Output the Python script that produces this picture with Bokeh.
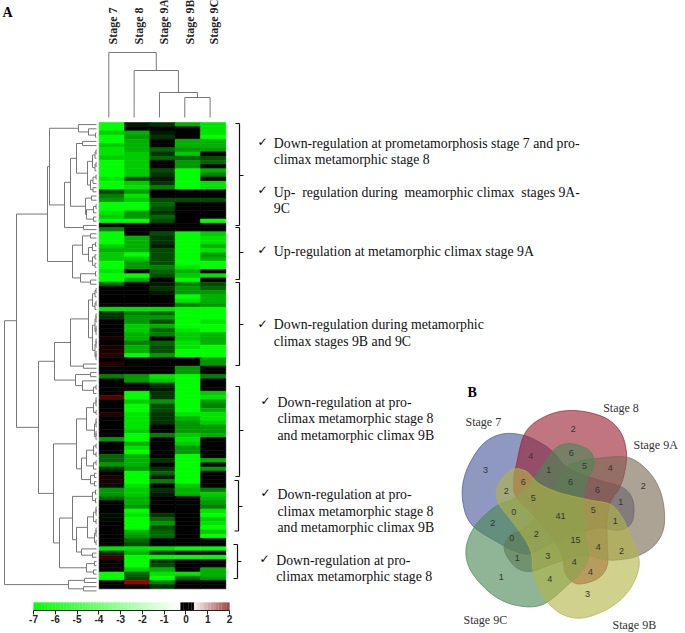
import math
from bokeh.plotting import figure
from bokeh.models import Range1d, LinearAxis, FixedTicker
from bokeh.core.properties import value
from bokeh.embed import file_html
from bokeh.resources import INLINE

# ---------- data ----------
stages = ["Stage 7", "Stage 8", "Stage 9A", "Stage 9B", "Stage 9C"]

# log-ratio per gene (row) and stage (column: 7, 8, 9A, 9B, 9C)
rows_block1 = [
 [-5,-.5,-1,-3.5,-4.5],[-5,0,0,0,-4.5],[-4,-3.5,-.5,0,-4.5],[-5,-3,-1,0,-5],[-5,-3.5,0,-3.5,-3.5],
 [-4,-3.5,0,-3.5,-3.5],[-4.5,-3.5,-2,-3,-3],[-4.5,-4,-1,-4,0],[-4,-4,-2,-2,-1.5],[-5,-4,0,-3,-2],
 [-5,-4,0,-3,0],[-5,-4,-1.5,-5,-3.5],[-5,-4,-1,-5,-2.5],[-4.5,-1.5,-.5,-5,0],[-5,-4,-1,-5,-4.5],
 [-5,-4.5,-2.5,-5,-4.5],[-1.5,-3,0,0,0],[-2.5,-4.5,0,0,0],[-3,-4,-1.5,-1.5,-1.5],[-5,-5,-2,0,0],
 [-5,-5,-1.5,0,0],[-4.5,-3,-1,0,0],[-4,-3,-2,0,0],
]
rows_block2 = [
 [-5,-5,-1.5,0,-5],[0,0,0,0,0],[-2.5,0,0,0,0],[-5,0,-1.5,-5,-4],[-5,-3.5,-1,-5,-4.5],[-5,-3.5,-1,-5,-4.5],
 [-4,-3.5,-.5,-5,-3.5],[-3.5,-3.5,-1.5,-5,-4.5],[-4,-5,-1.5,-5,-3],[-4,-4,-1.5,-5,-3.5],[-5,-3,-1.5,-5,-5],
 [-5,-3,-2.5,-4.5,-5],[-4.5,0,-2,-3.5,0],[-5,-5,-1.5,-4,-4.5],[-5,-3.5,0,-5,0],[-2,0,-.5,-2.5,-1.5],
 [0,0,-1,-3,-2],[0,0,-.5,-3,-3],[0,0,0,-5,-3.5],[0,0,0,-4.5,-3.5],[0,0,0,-2.5,-3],
 [-4.5,-4.5,-4.5,-5,-5],[-1,-2.5,-2,-5,-5],[-1,-3,-3,-5,-5],[0,-3,-1.5,-5,-4.5],[0,-4,-3.5,-5,-5],
 [0,-4,-2,-4.5,-5],[0,-3.5,-2.5,-4,-3.5],[.2,-3.5,0,-4,-3.5],[0,-2.5,-2,-4.5,-3.5],[.2,-3.5,-1.5,-4.5,-5],
 [.2,-3.5,-1.5,-5,-5],[.3,-5,-3,-5,-5],[0,0,0,0,-3],[.3,0,0,0,-3],[0,0,0,-3,0],[0,0,0,-3,0],
]
rows_block3 = [
 [-2.5,-3,-4.5,-5,-2.5],[0,-3,-4,-5,0],[0,0,-1,-5,0],[0,0,-.5,-5,0],[0,-5,-1,-5,-4],[.7,-5,-1,-5,-4.5],
 [0,-4,-3,-5,-3],[0,-5,-1.5,-5,-2.5],[0,-5,-1.5,-5,-3.5],[.3,-4.5,-1,-4.5,-4.5],[0,-4.5,-1,-3.5,-4.5],
 [0,-4.5,-1,-3,-4],[0,-4.5,0,-3,-3],[0,-4,0,-3,-3],[0,-5,-2.5,-4,-3.5],[-3,-5,0,-4.5,0],[0,-3.5,0,-4,0],
 [0,-4.5,0,-3,0],[0,-5,0,-3,0],[-2,-3.5,0,-5,0],[-2,-3.5,-1,-5,-3.5],[-3,-3.5,0,-5,0],[-1,-3,-1,-5,-3],
 [0,-5,-2,-5,0],[.2,-5,-.5,-5,0],[.2,-5,-2.5,-5,0],[-.3,-4.5,0,-4,0],
]
rows_block4 = [
 [-3,-4,-1,-3.5,-2.5],[-3,-4,-.5,-3.5,-4],[-2,-3.5,0,0,-3.5],[0,-3.5,0,0,-3],[0,-3,0,0,-2.5],[0,-5,0,0,-4.5],
 [-.3,-4.5,-1,0,-5],[-.2,-5,-2,0,-4],[0,-5,-3,0,-4.5],[0,-5,-1.5,0,-5],[0,-3.5,-2,0,-4],[0,-3,-2,0,-5],
 [0,-2,0,0,0],[0,-1.5,0,0,0],[-4.5,-4.5,-4.5,-5,-5],[-1,-3.5,-1,0,0],[.5,-5,-5,-5,-5],[0,-5,-1,0,0],
 [0,-5,-1.5,0,0],[0,-4,-3.5,0,-3.5],[-5,-2,-4.5,-4.5,-3.5],[-5,-1.5,-5,-2,-3],[0,1.2,-2.5,0,0],[0,0,-1,0,0],
]
heat_rows = rows_block1 + rows_block2 + rows_block3 + rows_block4

# column dendrogram: (height, left, right), leaves are column indexes
col_tree = (65, 0, (47, 1, (25, 2, (20, 3, 4))))

def fine(a, b, h):
    """small sub-cluster over consecutive rows a..b"""
    if a == b:
        return a
    m = (a + b) // 2
    step = 2.5 if b - a > 2 else 3
    return (h, fine(a, m, max(h - step, 2.5)), fine(m + 1, b, max(h - step, 2.5)))

# row dendrogram: (distance, upper, lower), leaves are row indexes
row_tree = (94,
  (82,
    (51,
      (49,
        (20, 0, (10, 1, fine(2, 3, 3))),
        (34,
          (28,
            (22, (16, 4, 5), (11, fine(6, 11, 6), fine(12, 16, 8))),
            (13, (7, 17, 18), (12, fine(19, 21, 5), fine(22, 23, 5)))),
          (15, 24, 25))),
      (26,
        (16, fine(26, 27, 8), (10, fine(28, 30, 6), fine(31, 34, 6))),
        (18, (3, 35, 36), (8, 37, 38)))),
    (60,
      (44,
        (28, (10, fine(39, 44, 6), fine(45, 56, 6)), (15, 57, 58)),
        (23, fine(59, 60, 8), (16, 61, fine(62, 64, 5)))),
      (45,
        (22,
          (12, fine(65, 69, 5), fine(70, 75, 4)),
          (17, (12, fine(76, 79, 5), fine(80, 82, 5)), (8, fine(83, 84, 4), fine(85, 86, 4)))),
        (39,
          (26,
            (6, fine(87, 88, 3), fine(89, 90, 3)),
            (22, (11, fine(91, 95, 5), fine(96, 100, 4)), (17, 101, (6, 102, 103)))),
          (12, fine(104, 105, 4), fine(106, 107, 5)))))),
  (30, (14, 108, 109), (15, 110, 111)))

# Venn diagram
venn_names = ["Stage 8", "Stage 9A", "Stage 9B", "Stage 9C", "Stage 7"]
venn_colors = ["#9a2132", "#7a6b54", "#b2b547", "#4a8756", "#48599a"]
venn_draw_order = [4, 0, 1, 3, 2]
venn_scale = [1.0, 0.96, 0.98, 1.0, 1.0]
venn_counts = ["3","2","2","3","1","4","6","4","5","1","6","6","1","1","5","2","4","4","4","4",
               "15","41","2","3","1","0","2","0","5","2","6"]

# colour scale
scale_ticks = [-7, -6, -5, -4, -3, -2, -1, 0, 1, 2]
scale_levels = [i / 8 for i in range(-56, 16)]

annotations = [
 ("Down-regulation at prometamorphosis stage 7 and pro-", 0), ("climax metamorphic stage 8", 0),
 ("Up-\u00a0 regulation during\u00a0 meamorphic climax\u00a0 stages 9A-", 0), ("9C", 0),
 ("Up-regulation at metamorphic climax stage 9A", 0),
 ("Down-regulation during metamorphic", 0), ("climax stages 9B and 9C", 0),
 ("Down-regulation at pro-", 1), ("climax metamorphic stage 8", 1), ("and metamorphic climax 9B", 1),
 ("Down-regulation at pro-", 1), ("climax metamorphic stage 8", 1), ("and metamorphic climax 9B", 1),
 ("Down-regulation at pro-", 2), ("climax metamorphic stage 8", 2),
]

# ---------- layout (page pixels) ----------
W, H = 685, 633
HX0, CW = 98.7, 25.32
HY0, RH = 122.0, 466.3 / len(heat_rows)
DIST0 = 98.0
COLTOP = 117.0
CB_X0, CB_U = 33.0, 21.78

p = figure(width=W, height=H, output_backend="svg", toolbar_location=None,
           x_range=Range1d(0, W), y_range=Range1d(H, 0), min_border=0,
           outline_line_color=None, background_fill_color="white")
p.xaxis.visible = False
p.yaxis.visible = False
p.grid.visible = False

p.extra_x_ranges["heat_x"] = Range1d(-HX0 / CW, (W - HX0) / CW)
p.extra_y_ranges["heat_y"] = Range1d((H - HY0) / RH, -HY0 / RH)
p.extra_x_ranges["dist"] = Range1d(DIST0, DIST0 - W)
p.extra_y_ranges["col_h"] = Range1d(COLTOP - H, COLTOP)
p.extra_x_ranges["scale"] = Range1d(-7 - CB_X0 / CB_U, -7 + (W - CB_X0) / CB_U)

# ---------- heat map ----------
def heat_color(v):
    if v > 0:
        return "#%02x0000" % min(255, int(200 * v / 1.5))
    return "#00%02x00" % min(255, int(255 * (-v) / 5))

hl, hr, ht, hb, hc = [], [], [], [], []
for r, row in enumerate(heat_rows):
    for c, v in enumerate(row):
        hl.append(c); hr.append(c + 1); ht.append(r); hb.append(r + 1); hc.append(heat_color(v))
p.quad(left=hl, right=hr, top=ht, bottom=hb, fill_color=hc, line_color=hc, line_width=0.6,
       x_range_name="heat_x", y_range_name="heat_y")

# ---------- dendrograms ----------
def walk_rows(node, out):
    if isinstance(node, int):
        return node + 0.5, 2.0
    h, a, b = node
    y1, h1 = walk_rows(a, out)
    y2, h2 = walk_rows(b, out)
    out.append((h1, y1, h, y1)); out.append((h2, y2, h, y2)); out.append((h, y1, h, y2))
    return (y1 + y2) / 2, h

segs = []
walk_rows(row_tree, segs)
p.segment(*[[s[i] for s in segs] for i in range(4)], line_color="#777777", line_width=1,
          x_range_name="dist", y_range_name="heat_y")

def walk_cols(node, out):
    if isinstance(node, int):
        return node + 0.38, 0.0
    h, a, b = node
    x1, h1 = walk_cols(a, out)
    x2, h2 = walk_cols(b, out)
    out.append((x1, h1, x1, h)); out.append((x2, h2, x2, h)); out.append((x1, h, x2, h))
    return (x1 + x2) / 2, h

segs = []
walk_cols(col_tree, segs)
p.segment(*[[s[i] for s in segs] for i in range(4)], line_color="#777777", line_width=1,
          x_range_name="heat_x", y_range_name="col_h")

serif = value("Liberation Serif")
p.text(x=[112, 138, 163, 189, 213.5], y=[44] * 5, text=stages, angle=math.pi / 2, text_font=serif,
       text_font_size="12px", text_font_style="bold", text_align="left", text_baseline="middle", text_color="#222222")

# ---------- panel letters ----------
p.text(x=[2, 467], y=[12, 392], text=["A", "B"], text_font=serif, text_font_size="14px",
       text_font_style="bold", text_align="left", text_baseline="middle", text_color="black")

# ---------- brackets ----------
brackets = [(123, 225, 175, 239), (227, 279, 252, 239), (282, 365, 324, 239),
            (386, 476, 430, 239), (480, 530.5, 506, 238), (544, 578, 561, 237)]
bx0, by0, bx1, by1 = [], [], [], []
for top, bot, mid, x in brackets:
    for s in [(x, top, x, bot), (x - 4, top, x, top), (x - 4, bot, x, bot), (x, mid, x + 4, mid)]:
        bx0.append(s[0]); by0.append(s[1]); bx1.append(s[2]); by1.append(s[3])
p.segment(bx0, by0, bx1, by1, line_color="#111111", line_width=1.2)

# ---------- annotations ----------
ann_x = [273.3, 277, 275.7]
ann_y = [143, 159.3, 191.7, 208, 251, 324, 341, 401.7, 418, 435, 494, 510.7, 527, 560, 576]
p.text(x=[ann_x[a[1]] for a in annotations], y=ann_y, text=[a[0] for a in annotations], text_font=serif,
       text_font_size="13.8px", text_align="left", text_baseline="middle", text_color="#111111")
p.text(x=[262, 262, 262, 262, 265, 265, 264], y=[141, 189, 249, 323, 400, 492, 558], text=["\u2713"] * 7,
       text_font=value("DejaVu Sans"), text_font_size="12px", text_font_style="bold",
       text_align="center", text_baseline="middle", text_color="black")

# ---------- colour scale ----------
def scale_color(v):
    if -0.28 <= v < 0.32:
        return "#000000"
    if v < 0:
        t = min(1.0, (v + 7) / 6.6)
        c = int(255 * t)
        return "#%02xff%02x" % (c, c)
    t = (v - 0.32) / 1.68
    return "#%02x%02x%02x" % (int(250 - 95 * t), int(240 - 180 * t), int(240 - 180 * t))

lv = scale_levels
cc = [scale_color(v) for v in lv]
p.quad(left=lv, right=[v + 0.125 for v in lv], top=[602] * len(lv), bottom=[609.5] * len(lv),
       fill_color=cc, line_color=cc, line_width=0.2, x_range_name="scale")
axis = LinearAxis(x_range_name="scale", fixed_location=610, bounds=(-7, 2), ticker=FixedTicker(ticks=scale_ticks))
axis.major_label_overrides = {t: str(t) for t in scale_ticks}
axis.axis_line_color = "#222222"
axis.major_tick_line_color = "#222222"
axis.major_tick_in = 0
axis.major_tick_out = 4
axis.minor_tick_line_color = None
axis.major_label_standoff = 0
axis.major_label_text_font = "Liberation Sans"
axis.major_label_text_font_size = "10px"
axis.major_label_text_font_style = "bold"
axis.major_label_text_color = "#222222"
p.add_layout(axis, "below")

# ---------- Venn ----------
VC = (561.7, 515.0)
venn_outline = [(197,270),(225,170),(290,120),(370,105),(460,125),(510,170),(528,235),(520,300),(505,340),
                (480,380),(470,430),(470,500),(470,570),(440,610),(380,625),(345,595),(335,540),(300,480),
                (240,410),(195,360),(190,310)]

def smooth(pts, n=8):
    out = []
    m = len(pts)
    for i in range(m):
        p0, p1, p2, p3 = pts[i - 1], pts[i], pts[(i + 1) % m], pts[(i + 2) % m]
        for k in range(n):
            t = k / n
            out.append(tuple(0.5 * (2 * p1[d] + (p2[d] - p0[d]) * t + (2 * p0[d] - 5 * p1[d] + 4 * p2[d] - p3[d]) * t * t
                                    + (3 * p1[d] - p0[d] - 3 * p2[d] + p3[d]) * t ** 3) for d in (0, 1)))
    return out

base = smooth([((x - 335) / 3, (y - 420) / 3) for x, y in venn_outline])
for idx in venn_draw_order:
    a = math.radians(72 * idx)
    k = venn_scale[idx]
    xs = [VC[0] + k * (x * math.cos(a) - y * math.sin(a)) for x, y in base]
    ys = [VC[1] + k * (x * math.sin(a) + y * math.cos(a)) for x, y in base]
    p.patch(xs, ys, fill_color=venn_colors[idx], fill_alpha=0.62, line_color=venn_colors[idx], line_alpha=0.7, line_width=1)

count_pos = [(105,284),(368,160),(578,330),(411,655),(152,603),(241,240),(362,231),(479,278),(402,270),(295,284),
             (360,320),(441,342),(511,380),(494,437),(428,402),(513,526),(443,513),(420,588),(371,558),(298,611),
             (375,493),(330,420),(257,475),(292,540),(200,547),(184,488),(127,441),(190,410),(248,366),(167,345),(218,318)]
p.text(x=[450 + q[0] / 3 for q in count_pos], y=[375 + q[1] / 3 for q in count_pos], text=venn_counts,
       text_font=value("Liberation Sans"), text_font_size="9px", text_align="center", text_baseline="middle",
       text_color="#333333")
p.text(x=[465, 602.7, 633, 463, 612], y=[421.7, 407, 444, 619, 624],
       text=["Stage 7", "Stage 8", "Stage 9A", "Stage 9C", "Stage 9B"], text_font=serif, text_font_size="12px",
       text_align="left", text_baseline="middle", text_color="#333333")

open("out.html", "w").write(file_html(p, INLINE))
